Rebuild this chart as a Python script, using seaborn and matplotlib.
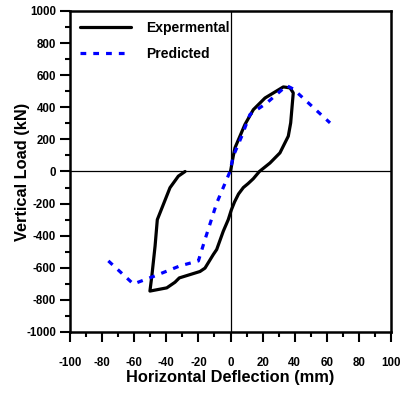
import matplotlib
matplotlib.use("Agg")
import matplotlib.pyplot as plt
import seaborn as sns
import pandas as pd
from matplotlib.ticker import MultipleLocator

# Experimental hysteresis path (mm, kN)
exp_x = [-28.3, -32.5, -37.7, -45.6, -47.0, -49.0, -50.2, -39.7, -34.6, -31.9, -19.0,
         -15.9, -10.7, -8.6, -4.5, -1.4, 0.5, 2.5, 5.0, 8.0, 11.0, 14.2, 18.0, 24.6,
         30.8, 36.0, 37.5, 39.1, 37.1, 32.9, 21.5, 14.2, 9.0, 2.8, 1.7, 0.0]
exp_y = [0, -29, -101, -300, -465, -650, -745, -725, -690, -663, -623,
         -602, -517, -486, -372, -300, -240, -190, -140, -100, -75, -45, 0, 53,
         116, 220, 303, 490, 521, 527, 458, 385, 293, 148, 95, 0]

# Predicted response
pred_x = [-76.1, -60.5, -47.0, -31.5, -20.0, -15.9, -8.6, -0.3, 1.7, 7.0, 12.1,
          22.6, 35.0, 39.1, 62.0]
pred_y = [-557, -701, -650, -588, -557, -424, -197, 0, 95, 220, 355,
          427, 535, 514, 303]

x_ticks = list(range(-100, 101, 20))
y_ticks = list(range(-1000, 1001, 200))

sns.set_theme(style="white")
plt.rcParams['font.family'] = ['Liberation Sans', 'DejaVu Sans']
plt.rcParams['font.weight'] = 'bold'
plt.rcParams['text.color'] = 'black'
plt.rcParams['axes.labelcolor'] = 'black'
plt.rcParams['xtick.color'] = 'black'
plt.rcParams['ytick.color'] = 'black'

fig = plt.figure(figsize=(4.01, 3.94), dpi=100)
ax = fig.add_axes([70/401, 1-332/394, 321/401, 321/394])

ax.axhline(0, color='black', lw=0.9, zorder=1)
ax.axvline(0, color='black', lw=0.9, zorder=1)

df_exp = pd.DataFrame({'x': exp_x, 'y': exp_y})
df_pred = pd.DataFrame({'x': pred_x, 'y': pred_y})

sns.lineplot(data=df_exp, x='x', y='y', sort=False, estimator=None, ax=ax,
             color='black', lw=2.3, label='Expermental', zorder=3)
sns.lineplot(data=df_pred, x='x', y='y', sort=False, estimator=None, ax=ax,
             color='blue', lw=2.3, label='Predicted', zorder=4)
ax.lines[-1].set_dashes([1.8, 2.2])

ax.set_xlim(-100, 100)
ax.set_ylim(-1000, 1000)
ax.set_xticks(x_ticks)
ax.set_yticks(y_ticks)
ax.set_xticklabels([str(t) for t in x_ticks], fontsize=8.3, fontweight='bold')
ax.set_yticklabels([str(t) for t in y_ticks], fontsize=8.3, fontweight='bold')
ax.xaxis.set_minor_locator(MultipleLocator(10))
ax.yaxis.set_minor_locator(MultipleLocator(100))
ax.tick_params(axis='x', which='major', pad=11)
ax.tick_params(axis='y', which='major', pad=3)
ax.tick_params(axis='both', which='major', direction='out', length=7, width=1.5,
               bottom=True, left=True, top=False, right=False, colors='black')
ax.tick_params(axis='both', which='minor', direction='out', length=3.5, width=1.5,
               bottom=True, left=True, top=False, right=False)
for s in ax.spines.values():
    s.set_color('black')
    s.set_linewidth(1.8)

ax.set_xlabel('Horizontal Deflection (mm)', fontsize=11.8, fontweight='bold', labelpad=1)
ax.set_ylabel('Vertical Load (kN)', fontsize=11.8, fontweight='bold', labelpad=-3)

leg = ax.legend(loc='upper left', frameon=False, handlelength=3.7,
                handletextpad=1.1, labelspacing=0.85, borderaxespad=0.3,
                prop={'weight': 'bold', 'size': 10})

fig.savefig('out.png', dpi=100)
